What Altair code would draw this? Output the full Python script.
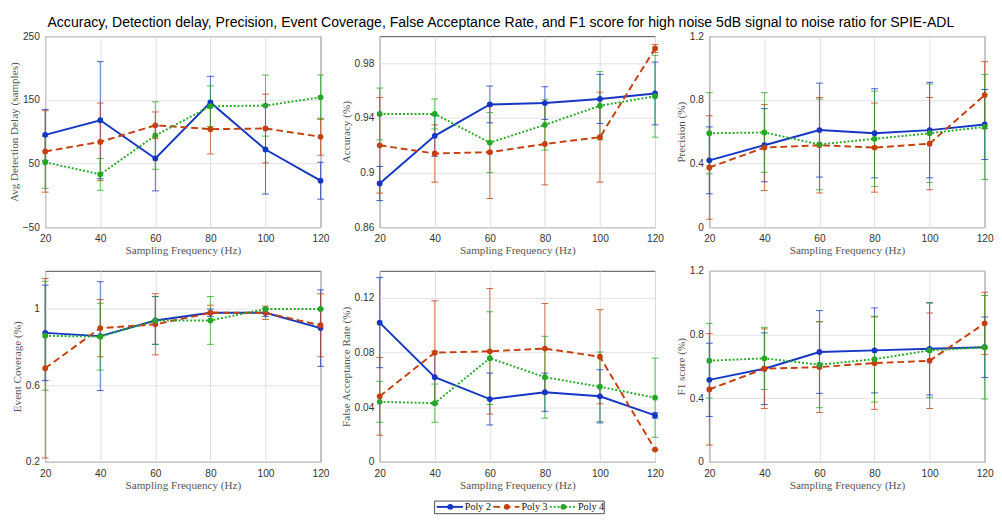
import altair as alt
import pandas as pd

freq = [20, 40, 60, 80, 100, 120]
series_names = ["Poly 2", "Poly 3", "Poly 4"]
series_colors = ["#1537c4", "#c4400f", "#26a626"]
series_dash = [None, [7, 4], [2, 2]]

# Avg detection delay (samples)
delay_p2 = [95, 118, 58, 146, 72, 23]
delay_p2_err = [40, 92, 51, 41, 70, 29]
delay_p3 = [69, 84, 110, 104, 105, 92]
delay_p3_err = [64, 61, 21, 39, 54, 29]
delay_p4 = [52, 33, 94, 140, 141, 154]
delay_p4_err = [41, 25, 53, 32, 48, 35]

# Accuracy
acc_p2 = [0.892, 0.927, 0.950, 0.951, 0.954, 0.958]
acc_p2_err = [0.0125, 0.015, 0.0135, 0.012, 0.018, 0.023]
acc_p3 = [0.920, 0.914, 0.915, 0.921, 0.926, 0.991]
acc_p3_err = [0.035, 0.021, 0.034, 0.030, 0.033, 0.003]
acc_p4 = [0.943, 0.943, 0.922, 0.935, 0.949, 0.956]
acc_p4_err = [0.019, 0.011, 0.022, 0.0185, 0.025, 0.030]

# Precision
prec_p2 = [0.42, 0.515, 0.61, 0.59, 0.61, 0.645]
prec_p2_err = [0.21, 0.23, 0.295, 0.28, 0.30, 0.22]
prec_p3 = [0.375, 0.50, 0.515, 0.50, 0.525, 0.83]
prec_p3_err = [0.325, 0.27, 0.30, 0.28, 0.29, 0.21]
prec_p4 = [0.59, 0.595, 0.52, 0.555, 0.59, 0.63]
prec_p4_err = [0.255, 0.25, 0.285, 0.30, 0.31, 0.33]

# Event coverage
cov_p2 = [0.875, 0.858, 0.94, 0.98, 0.98, 0.90]
cov_p2_err = [0.25, 0.285, 0.125, 0.02, 0.02, 0.20]
cov_p3 = [0.69, 0.90, 0.92, 0.98, 0.98, 0.915]
cov_p3_err = [0.47, 0.15, 0.16, 0.04, 0.035, 0.165]
cov_p4 = [0.86, 0.855, 0.94, 0.94, 1.0, 1.0]
cov_p4_err = [0.285, 0.175, 0.125, 0.125, 0.0, 0.0]

# False acceptance rate
far_p2 = [0.102, 0.062, 0.046, 0.051, 0.048, 0.034]
far_p2_err = [0.033, 0.019, 0.019, 0.014, 0.0195, 0.002]
far_p3 = [0.048, 0.080, 0.081, 0.083, 0.077, 0.009]
far_p3_err = [0.0285, 0.038, 0.046, 0.033, 0.0345, 0.0]
far_p4 = [0.044, 0.043, 0.076, 0.062, 0.055, 0.047]
far_p4_err = [0.015, 0.014, 0.034, 0.030, 0.0255, 0.029]

# F1 score
f1_p2 = [0.515, 0.585, 0.69, 0.70, 0.71, 0.72]
f1_p2_err = [0.23, 0.225, 0.26, 0.267, 0.29, 0.19]
f1_p3 = [0.455, 0.585, 0.595, 0.62, 0.635, 0.87]
f1_p3_err = [0.35, 0.25, 0.285, 0.29, 0.30, 0.195]
f1_p4 = [0.635, 0.65, 0.61, 0.645, 0.70, 0.72]
f1_p4_err = [0.235, 0.195, 0.27, 0.27, 0.297, 0.325]

# y tick labels of each panel
delay_ticks = [-50, 0, 50, 100, 150, 200, 250]
acc_ticks = [0.86, 0.88, 0.9, 0.92, 0.94, 0.96, 0.98, 1.0]
prec_ticks = [0, 0.2, 0.4, 0.6, 0.8, 1.0, 1.2]
cov_ticks = [0.2, 0.4, 0.6, 0.8, 1.0, 1.2]
far_ticks = [0, 0.02, 0.04, 0.06, 0.08, 0.1, 0.12, 0.14]
f1_ticks = [0, 0.2, 0.4, 0.6, 0.8, 1.0, 1.2]

W, H = 284, 197
SERIF = "Liberation Serif"
SANS = "Liberation Sans"
FRAME = "#4a4a4a"


def make_df(vals, errs):
    rows = []
    for name, v, e in zip(series_names, vals, errs):
        for f, m, d in zip(freq, v, e):
            rows.append({"freq": f, "series": name, "val": m, "lo": m - d, "hi": m + d})
    return pd.DataFrame(rows)


def panel(vals, errs, ytitle, yticks):
    df = make_df(vals, errs)
    xs = alt.Scale(domain=[20, 120], nice=False, zero=False)
    ys = alt.Scale(domain=[yticks[0], yticks[-1]], nice=False, zero=False)
    color = alt.Color("series:N", scale=alt.Scale(domain=series_names, range=series_colors), legend=None)
    ax_x = alt.Axis(values=freq, title="Sampling Frequency (Hz)", grid=True, gridColor="#e0e0e0",
                    ticks=False, domain=False, labelPadding=7, labelFont=SANS, labelFontSize=10.5,
                    labelColor="#333333", labelFlush=False, labelOverlap=False,
                    titleFont=SERIF, titleFontSize=11.5, titleFontWeight="normal",
                    titleColor="#555555", titlePadding=1)
    ax_y = alt.Axis(values=yticks, title=ytitle, grid=True, gridColor="#e0e0e0", format="~f",
                    ticks=False, domain=False, labelPadding=6, labelFont=SANS, labelFontSize=10.5,
                    labelColor="#333333", labelFlush=False, labelOverlap=False,
                    titleFont=SERIF, titleFontSize=11.5, titleFontWeight="normal",
                    titleColor="#555555", titlePadding=3)
    base = alt.Chart(df)
    err = base.mark_rule(strokeWidth=1, opacity=0.7).encode(
        x=alt.X("freq:Q", scale=xs, axis=ax_x),
        y=alt.Y("lo:Q", scale=ys, axis=ax_y),
        y2="hi:Q",
        color=color,
    )
    cap_lo = base.mark_rule(strokeWidth=1, opacity=0.8, xOffset=-3.5, x2Offset=3.5).encode(
        x="freq:Q", x2="freq", y="lo:Q", color=color)
    cap_hi = base.mark_rule(strokeWidth=1, opacity=0.8, xOffset=-3.5, x2Offset=3.5).encode(
        x="freq:Q", x2="freq", y="hi:Q", color=color)
    layers = [err, cap_lo, cap_hi]
    for name, c, d in zip(series_names, series_colors, series_dash):
        sub = df[df["series"] == name]
        if d is None:
            mk = alt.Chart(sub).mark_line(color=c, strokeWidth=2)
        else:
            mk = alt.Chart(sub).mark_line(color=c, strokeWidth=2, strokeDash=d)
        layers.append(mk.encode(x="freq:Q", y="val:Q"))
    pts = base.mark_circle(size=36, opacity=1).encode(x="freq:Q", y="val:Q", color=color)
    layers.append(pts)
    return alt.layer(*layers).properties(width=W, height=H)


p1 = panel([delay_p2, delay_p3, delay_p4], [delay_p2_err, delay_p3_err, delay_p4_err],
           "Avg Detection Delay (samples)", delay_ticks)
p2 = panel([acc_p2, acc_p3, acc_p4], [acc_p2_err, acc_p3_err, acc_p4_err],
           "Accuracy (%)", acc_ticks)
p3 = panel([prec_p2, prec_p3, prec_p4], [prec_p2_err, prec_p3_err, prec_p4_err],
           "Precision (%)", prec_ticks)
p4 = panel([cov_p2, cov_p3, cov_p4], [cov_p2_err, cov_p3_err, cov_p4_err],
           "Event Coverage (%)", cov_ticks)
p5 = panel([far_p2, far_p3, far_p4], [far_p2_err, far_p3_err, far_p4_err],
           "False Acceptance Rate (%)", far_ticks)
p6 = panel([f1_p2, f1_p3, f1_p4], [f1_p2_err, f1_p3_err, f1_p4_err],
           "F1 score (%)", f1_ticks)

# legend, drawn from the series list
ldf = pd.DataFrame({"series": series_names, "row": ["r", "r", "r"]})
lx = alt.Scale(type="point", domain=series_names, padding=0.5)
ly = alt.Scale(type="point", domain=["r"])
lcolor = alt.Color("series:N", scale=alt.Scale(domain=series_names, range=series_colors), legend=None)
ly_axis = alt.Axis(labels=False, ticks=False, domain=False, grid=False, title=" ",
                   titlePadding=34, titleFontSize=12)
leg_layers = []
for name, c, d in zip(series_names, series_colors, series_dash):
    sub = ldf[ldf["series"] == name]
    if d is None:
        mk = alt.Chart(sub).mark_rule(color=c, strokeWidth=2, xOffset=-26.5, x2Offset=0.5)
    else:
        mk = alt.Chart(sub).mark_rule(color=c, strokeWidth=2, strokeDash=d, xOffset=-26.5, x2Offset=0.5)
    leg_layers.append(mk.encode(x=alt.X("series:N", scale=lx, axis=None), x2="series",
                                y=alt.Y("row:N", scale=ly, axis=ly_axis)))
leg_pt = alt.Chart(ldf).mark_circle(size=36, opacity=1, xOffset=-12.5).encode(
    x=alt.X("series:N", scale=lx, axis=None), y=alt.Y("row:N", scale=ly, axis=ly_axis), color=lcolor)
leg_txt = alt.Chart(ldf).mark_text(align="left", baseline="middle", xOffset=2.5, font=SERIF,
                                   fontSize=10.5, color="#111111").encode(
    x=alt.X("series:N", scale=lx, axis=None), y=alt.Y("row:N", scale=ly, axis=ly_axis), text="series:N")
legend = alt.layer(*leg_layers, leg_pt, leg_txt).properties(width=175, height=13)

row1 = alt.hconcat(p1, p2, p3, spacing=10)
row2 = alt.hconcat(p4, p5, p6, spacing=10)

chart = alt.vconcat(row1, row2, legend, spacing=8, center=True).properties(
    title=alt.TitleParams(
        "Accuracy, Detection delay, Precision, Event Coverage, False Acceptance Rate, and F1 score for high noise 5dB signal to noise ratio for SPIE-ADL",
        font=SANS, fontSize=14.5, fontWeight="normal", color="#000000", anchor="middle", offset=0),
    padding={"left": 0, "top": 0, "right": 0, "bottom": 0},
).configure_view(stroke=FRAME)

chart.save("out.html", embed_options={"renderer": "svg", "actions": False})
